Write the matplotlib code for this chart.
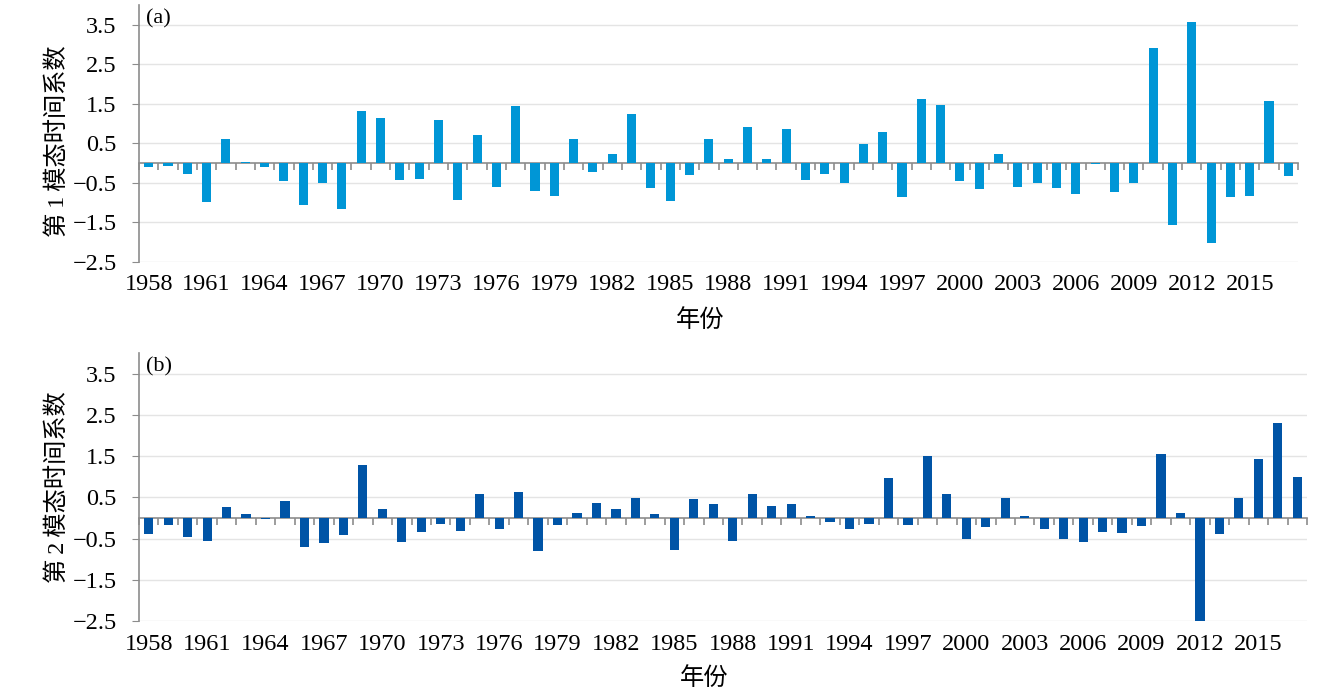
import numpy as np
import matplotlib
matplotlib.use('Agg')
import matplotlib.pyplot as plt

years = list(range(1958, 2018))

# mode 1 time coefficients
pc1 = [-0.10, -0.07, -0.28, -0.98, 0.60, 0.04, -0.10, -0.45, -1.06, -0.51,
       -1.15, 1.31, 1.13, -0.43, -0.39, 1.10, -0.92, 0.72, -0.60, 1.45,
       -0.71, -0.84, 0.60, -0.22, 0.22, 1.24, -0.63, -0.95, -0.31, 0.60,
       0.10, 0.92, 0.10, 0.86, -0.43, -0.28, -0.51, 0.49, 0.78, -0.86,
       1.62, 1.47, -0.45, -0.66, 0.22, -0.60, -0.51, -0.63, -0.78, -0.03,
       -0.74, -0.49, 2.90, -1.56, 3.58, -2.01, -0.86, -0.84, 1.56, -0.33]

# mode 2 time coefficients
pc2 = [-0.39, -0.17, -0.46, -0.55, 0.26, 0.09, -0.03, 0.42, -0.71, -0.62,
       -0.42, 1.28, 0.22, -0.59, -0.34, -0.14, -0.31, 0.59, -0.26, 0.62,
       -0.80, -0.17, 0.11, 0.36, 0.22, 0.48, 0.09, -0.77, 0.45, 0.34,
       -0.55, 0.59, 0.28, 0.34, 0.05, -0.11, -0.26, -0.14, 0.96, -0.17,
       1.51, 0.59, -0.51, -0.23, 0.48, 0.05, -0.26, -0.51, -0.59, -0.34,
       -0.37, -0.20, 1.56, 0.11, -2.65, -0.39, 0.48, 1.42, 2.30, 0.99]

tick_years = list(range(1958, 2016, 3))
yticks = [-2.5, -1.5, -0.5, 0.5, 1.5, 2.5, 3.5]

serif = ['Liberation Serif', 'DejaVu Serif']
cjk = ['Liberation Serif', 'Noto Sans CJK SC', 'DejaVu Sans']
grey = '#8c8c8c'

fig = plt.figure(figsize=(13.37, 6.94), dpi=100)
ax1 = fig.add_axes([139/1337, 1-262/694, 1159/1337, 257/694])
ax2 = fig.add_axes([139/1337, 1-621/694, 1168/1337, 268/694])

panels = [
    (ax1, pc1, '#0096d6', '(a)', '第\u20091\u2009模态时间系数', 0.47, -0.228),
    (ax2, pc2, '#0054a6', '(b)', '第\u20092\u2009模态时间系数', 0.50, -0.216),
]

for ax, vals, col, tag, ylab, ylab_y, xlab_y in panels:
    ax.bar(years, vals, width=0.47, color=col, zorder=3)
    ax.set_xlim(1957.5, 2017.5)
    ax.set_ylim(-2.5, 4.0)
    ax.set_yticks(yticks)
    ax.grid(axis='y', color='#e4e4e4', lw=1, zorder=0)
    for s in ['top', 'right', 'bottom']:
        ax.spines[s].set_visible(False)
    ax.spines['left'].set_color(grey)
    ax.spines['left'].set_linewidth(1.2)
    ax.tick_params(axis='y', direction='out', length=5, color=grey, pad=11,
                   labelsize=17.5)
    ax.set_xticks(tick_years)
    ax.tick_params(axis='x', length=0, pad=9, labelsize=17.5)
    for lab in ax.get_xticklabels() + ax.get_yticklabels():
        lab.set_family(serif)

    # zero line with small ticks between the bars
    sec = ax.secondary_xaxis(0, transform=ax.transData)
    sec.set_xticks(np.arange(1957.5, 2018, 1))
    sec.tick_params(axis='x', direction='out', length=5, color=grey,
                    width=1.2, labelbottom=False)
    sec.spines['bottom'].set_color(grey)
    sec.spines['bottom'].set_linewidth(1.2)

    ax.text(0.006, 0.985, tag, transform=ax.transAxes, ha='left', va='top',
            fontsize=16, family=serif)
    ax.text(-0.07, ylab_y, ylab, transform=ax.transAxes, rotation=90,
            ha='center', va='center', fontsize=17.5, family=cjk)
    ax.text(0.484, xlab_y, '年份', transform=ax.transAxes, ha='center',
            va='center', fontsize=17.5, family=cjk)

fig.savefig('out.png', dpi=100)
